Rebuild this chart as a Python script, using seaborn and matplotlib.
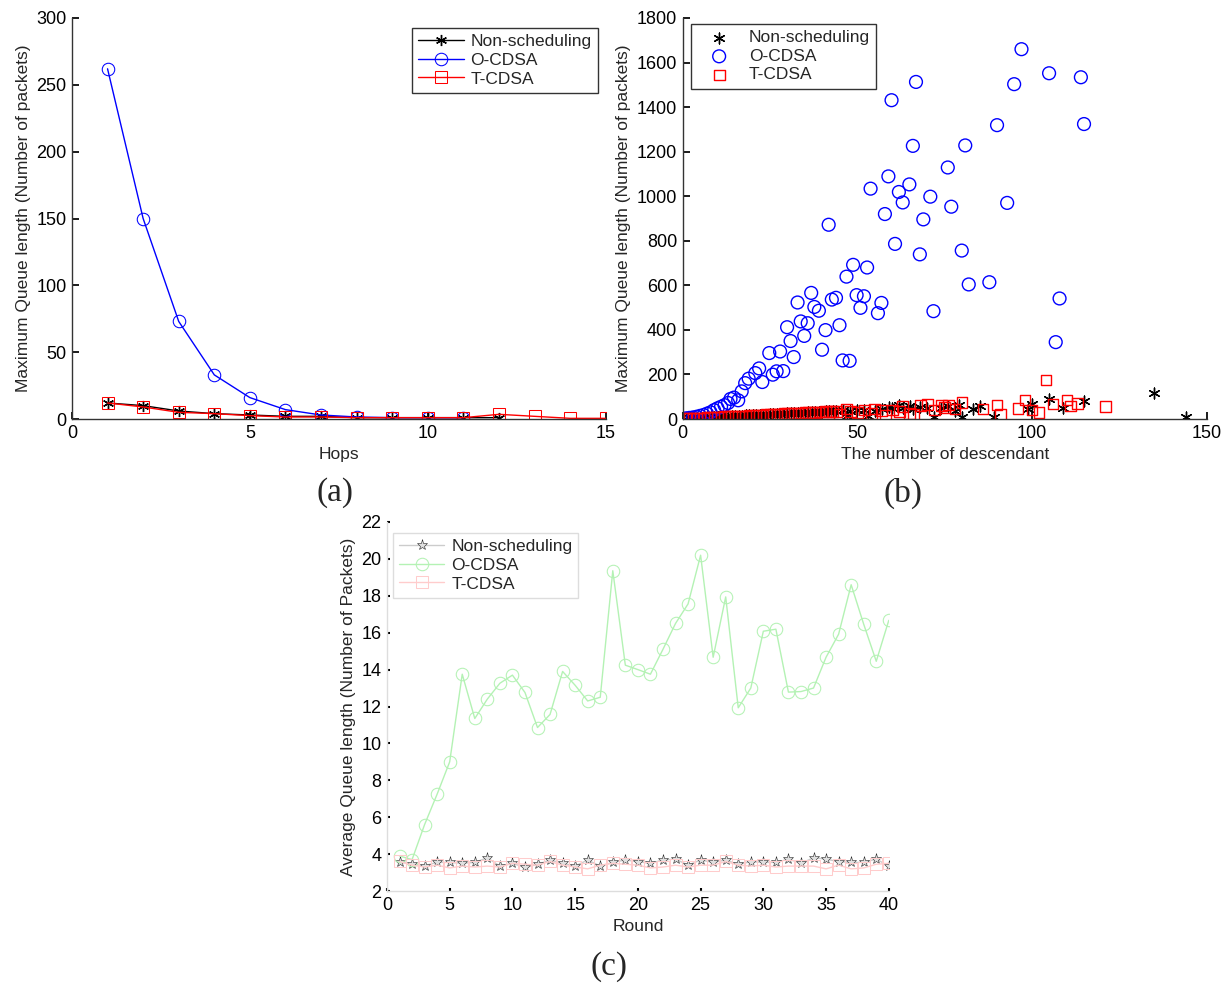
import numpy as np
import pandas as pd
import seaborn as sns
import matplotlib
matplotlib.use("Agg")
import matplotlib.pyplot as plt

sns.set_theme(style="ticks")
plt.rcParams['font.family'] = ['Liberation Sans', 'DejaVu Sans']

# (a) max queue length vs hops
hops_ns = [1, 2, 3, 4, 5, 6, 7, 8, 9, 10, 11, 12]
ns_a = [12, 10, 6, 4, 3, 2, 2, 1, 1, 1, 1, 1]
hops_o = [1, 2, 3, 4, 5, 6, 7, 8, 9, 10, 11]
o_a = [262, 150, 73, 33, 16, 7, 3, 1.5, 1, 1, 1]
hops_t = [1, 2, 3, 4, 5, 6, 7, 8, 9, 10, 11, 12, 13, 14, 15]
t_a = [12, 9, 5, 4, 2.5, 1.5, 1.5, 1, 1, 1, 1, 3.5, 2, 0.5, 0.5]

# (b) max queue length vs number of descendants
ns_b_x = [1, 2, 3, 4, 5, 6, 7, 8, 9, 10, 11, 12, 13, 14, 15, 16, 17, 18, 19, 20,
          21, 22, 23, 24, 25, 26, 27, 28, 29, 30, 31, 32, 33, 34, 35, 36, 37, 38, 39, 40,
          41, 42, 43, 44, 46, 47, 48, 50, 52, 53, 55, 57, 59, 60,
          62, 63, 65, 66, 68, 70, 72, 74, 76, 78, 79, 80,
          83, 85, 89, 99, 100, 105, 109, 115, 135, 144]
ns_b_y = [2, 3, 4, 5, 5, 6, 7, 8, 9, 9, 10, 11, 12, 13, 13, 14, 15, 16, 16, 17,
          18, 19, 20, 20, 21, 22, 23, 24, 24, 25, 26, 27, 28, 28, 29, 30, 31, 32, 32, 33,
          34, 35, 36, 37, 40, 13, 38, 40, 42, 13, 38, 44, 52, 48,
          63, 50, 60, 45, 55, 48, 10, 50, 58, 37, 63, 8,
          45, 60, 7, 45, 66, 89, 49, 80, 118, 8]
o_b_x = [1, 2, 3, 4, 5, 6, 7, 8, 9, 10, 11, 12, 13, 13.7, 14.7, 15.9, 16.9, 17.9, 18.9, 20.8,
         21.9, 22.8, 24.8, 25.8, 26.9, 27.9, 28.8, 29.9, 30.9, 31.8, 32.9, 33.8, 34.8, 35.8, 36.8,
         37.7, 39.0, 39.9, 40.9, 41.8, 42.7, 43.9, 44.9, 45.8, 46.9, 47.8, 48.8, 49.8, 50.9, 51.9,
         52.8, 53.8, 55.9, 56.9, 57.9, 58.9, 59.8, 60.8, 61.9, 63.0, 64.9, 65.9, 66.8, 67.9, 68.9,
         70.9, 71.8, 75.9, 76.9, 79.9, 80.9, 81.9, 87.8, 90.0, 92.9, 94.9, 97.0, 104.9, 106.8,
         107.9, 114.0, 114.9]
o_b_y = [3, 5, 7, 10, 14, 18, 24, 30, 40, 48, 55, 62, 72, 90, 96, 84, 124, 161, 181, 206,
         227, 166, 296, 199, 214, 303, 215, 412, 350, 278, 523, 438, 373, 430, 566,
         503, 486, 311, 399, 872, 536, 544, 421, 263, 639, 261, 692, 556, 499, 551,
         680, 1034, 475, 521, 920, 1089, 1431, 786, 1019, 972, 1053, 1226, 1513, 739, 896,
         998, 484, 1129, 953, 756, 1228, 604, 614, 1319, 970, 1503, 1660, 1552, 345,
         541, 1534, 1324]
t_b_x = [1, 2, 3, 4, 5, 6, 7, 8, 9, 10, 11, 12, 13, 14, 15, 16, 17, 18, 19, 20,
         21, 22, 23, 24, 25, 26, 27, 28, 29, 30, 31, 32, 33, 34, 35, 36, 37, 38, 39, 40,
         41, 42, 43, 44, 45, 47, 48, 50, 52, 54, 55, 57, 58, 60,
         62, 63, 65, 66, 68, 70, 72, 74, 75, 76,
         78, 80, 86, 90, 91, 96, 98, 100, 102, 104,
         106, 110, 111, 113, 121]
t_b_y = [1, 2, 3, 3, 4, 5, 6, 7, 7, 8, 9, 10, 10, 11, 12, 13, 14, 14, 15, 16,
         17, 17, 18, 19, 20, 21, 21, 22, 23, 24, 24, 25, 26, 27, 28, 28, 29, 30, 31, 31,
         32, 33, 34, 35, 20, 45, 35, 30, 40, 25, 45, 38, 15, 40,
         35, 55, 25, 20, 60, 65, 40, 62, 50, 63,
         45, 73, 45, 63, 21, 48, 85, 40, 28, 175,
         67, 85, 58, 69, 56]

# (c) average queue length per round
rounds = list(range(1, 41))
ns_c = [3.59, 3.44, 3.37, 3.55, 3.55, 3.5, 3.55, 3.8, 3.35, 3.5,
        3.28, 3.44, 3.68, 3.5, 3.35, 3.68, 3.35, 3.55, 3.68, 3.59,
        3.5, 3.68, 3.73, 3.4, 3.68, 3.55, 3.68, 3.44, 3.59, 3.55,
        3.55, 3.73, 3.5, 3.8, 3.73, 3.59, 3.55, 3.55, 3.73, 3.35]
o_c = [3.9, 3.7, 5.6, 7.25, 9.0, 13.75, 11.35, 12.4, 13.26, 13.7,
       12.76, 10.86, 11.57, 13.9, 13.15, 12.3, 12.5, 19.36, 14.24, 14.0,
       13.75, 15.1, 16.5, 17.56, 20.2, 14.67, 17.94, 11.93, 13.0, 16.08,
       16.19, 12.78, 12.81, 13.0, 14.67, 15.92, 18.6, 16.46, 14.45, 16.67]
t_c = [3.6, 3.4, 3.3, 3.4, 3.25, 3.35, 3.3, 3.35, 3.3, 3.5,
       3.45, 3.4, 3.6, 3.4, 3.3, 3.2, 3.4, 3.5, 3.45, 3.4,
       3.25, 3.3, 3.4, 3.3, 3.4, 3.4, 3.6, 3.4, 3.35, 3.4,
       3.3, 3.35, 3.35, 3.35, 3.2, 3.4, 3.2, 3.25, 3.45, 3.5]

labels = ["Non-scheduling", "O-CDSA", "T-CDSA"]
star = (6, 2, 0)
fs = 13
lfs = 12.5

fig = plt.figure(figsize=(12.3, 10), dpi=100)
ax_a = fig.add_axes([0.0585, 0.581, 0.434, 0.401])
ax_b = fig.add_axes([0.555, 0.581, 0.426, 0.401])
ax_c = fig.add_axes([0.3146, 0.109, 0.408, 0.369])


def matlab_axes(ax, spine_color="#333333"):
    for s in ["top", "right"]:
        ax.spines[s].set_visible(False)
    for s in ["left", "bottom"]:
        ax.spines[s].set_color(spine_color)
        ax.spines[s].set_linewidth(1.0)
    ax.tick_params(direction="in", length=5, labelsize=fs, colors="black", pad=4)


def compact_legend(ax, loc, anchor, edge):
    leg = ax.legend(loc=loc, fontsize=lfs, fancybox=False, framealpha=1,
                    edgecolor=edge, handlelength=2.6, handletextpad=0.4,
                    labelspacing=0.2, borderpad=0.35, borderaxespad=0.0,
                    bbox_to_anchor=anchor)
    leg.get_frame().set_linewidth(1.0)
    return leg


# panel (a)
sns.lineplot(x=hops_ns, y=ns_a, ax=ax_a, color="black", lw=1, marker=star, ms=8,
             mew=1, mec="black", label=labels[0])
sns.lineplot(x=hops_o, y=o_a, ax=ax_a, color="blue", lw=1, marker="o", ms=9,
             mfc="none", mec="blue", label=labels[1])
sns.lineplot(x=hops_t, y=t_a, ax=ax_a, color="red", lw=1, marker="s", ms=8,
             mfc="none", mec="red", label=labels[2])
ax_a.set_xlim(0, 15)
ax_a.set_ylim(0, 300)
ax_a.set_xticks([0, 5, 10, 15])
ax_a.set_yticks(range(0, 301, 50))
ax_a.set_xlabel("Hops", fontsize=lfs)
ax_a.set_ylabel("Maximum Queue length (Number of packets)", fontsize=lfs)
matlab_axes(ax_a)
compact_legend(ax_a, "upper right", (0.985, 0.975), "#333333")

# panel (b)
sns.scatterplot(x=ns_b_x, y=ns_b_y, ax=ax_b, marker=star, s=60, color="black",
                linewidth=1, label=labels[0])
sns.scatterplot(x=o_b_x, y=o_b_y, ax=ax_b, marker="o", s=85, facecolor="none",
                edgecolor="blue", linewidth=1, label=labels[1])
sns.scatterplot(x=t_b_x, y=t_b_y, ax=ax_b, marker="s", s=60, facecolor="none",
                edgecolor="red", linewidth=1, label=labels[2])
ax_b.set_xlim(0, 150)
ax_b.set_ylim(0, 1800)
ax_b.set_xticks([0, 50, 100, 150])
ax_b.set_yticks(range(0, 1801, 200))
ax_b.set_xlabel("The number of descendant", fontsize=lfs)
ax_b.set_ylabel("Maximum Queue length (Number of packets)", fontsize=lfs)
matlab_axes(ax_b)
compact_legend(ax_b, "upper left", (0.015, 0.985), "#333333")

# panel (c)
sns.lineplot(x=rounds, y=ns_c, ax=ax_c, color="#cccccc", lw=1, marker="*", ms=8,
             mfc="#e0e0e0", mec="#222222", mew=0.4, label=labels[0])
sns.lineplot(x=rounds, y=o_c, ax=ax_c, color="#b4f2b4", lw=1, marker="o", ms=9,
             mfc="none", mec="#b4f2b4", label=labels[1])
sns.lineplot(x=rounds, y=t_c, ax=ax_c, color="#ffcccc", lw=1, marker="s", ms=8,
             mfc="none", mec="#ffcccc", label=labels[2])
ax_c.set_xlim(0, 40)
ax_c.set_ylim(2, 22)
ax_c.set_xticks(range(0, 41, 5))
ax_c.set_yticks(range(2, 23, 2))
ax_c.set_xlabel("Round", fontsize=lfs)
ax_c.set_ylabel("Average Queue length (Number of Packets)", fontsize=lfs)
matlab_axes(ax_c, spine_color="#dddddd")
ax_c.tick_params(length=2.5, width=1.5, color="black")
compact_legend(ax_c, "upper left", (0.012, 0.97), "#dddddd")

fig.text(0.272, 0.507, "(a)", fontsize=24, family="Liberation Serif", ha="center", va="center")
fig.text(0.734, 0.507, "(b)", fontsize=24, family="Liberation Serif", ha="center", va="center")
fig.text(0.495, 0.033, "(c)", fontsize=24, family="Liberation Serif", ha="center", va="center")

fig.savefig("out.png", dpi=100, facecolor="white")
